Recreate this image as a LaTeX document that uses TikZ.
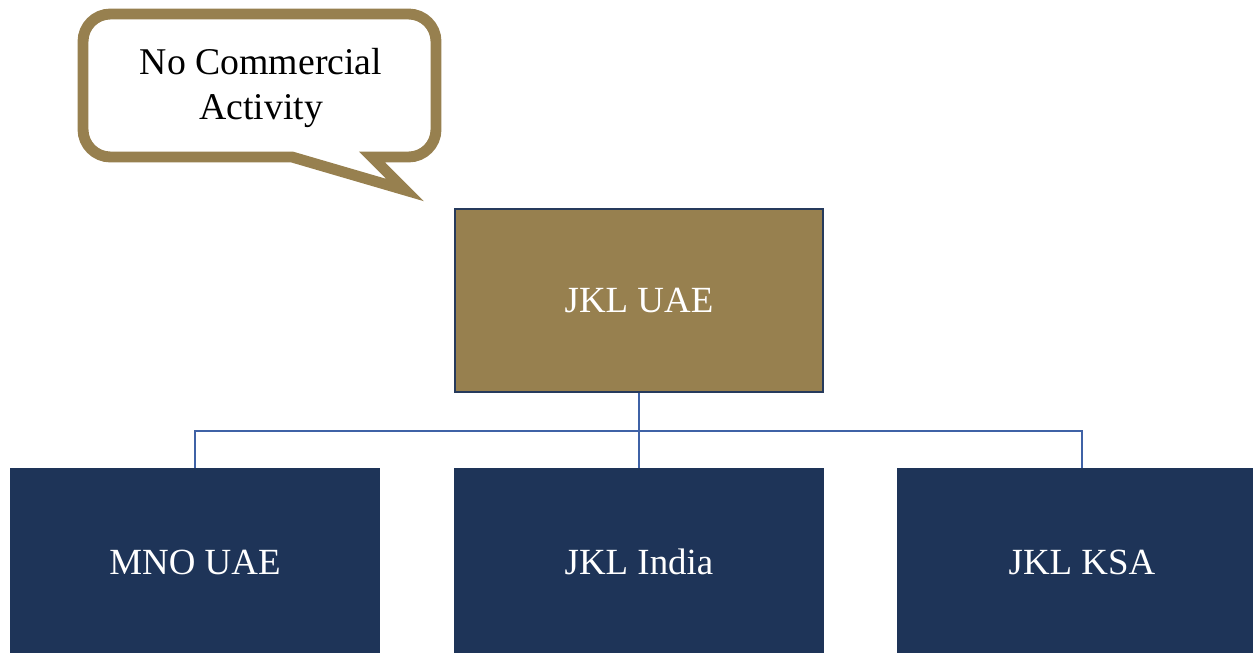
\documentclass[tikz,border=0pt]{standalone}
\usepackage{fontspec}
\setmainfont{Liberation Serif}
\definecolor{gold}{HTML}{97804F}
\definecolor{navy}{HTML}{1E3458}
\definecolor{edgenavy}{HTML}{263A5C}
\definecolor{connblue}{HTML}{3F62A6}
\tikzset{
  lbl/.style={font=\fontsize{21}{25.5}\selectfont},
  topbox/.style={rectangle, draw=edgenavy, line width=1.4pt, fill=gold, text=white, lbl,
    minimum width=7.36cm, minimum height=3.66cm, inner sep=0pt},
  childbox/.style={rectangle, draw=none, fill=navy, text=white, lbl,
    minimum width=7.4cm, minimum height=3.76cm, inner sep=0pt},
  conn/.style={draw=connblue, line width=1.4pt},
  callout/.style={draw=gold, line width=6.2pt, fill=white, line join=miter}
}
\begin{document}
\begin{tikzpicture}[x=0.02cm, y=-0.02cm]
\useasboundingbox (0,0) rectangle (1253,652);
\clip (0,0) rectangle (1253,652);
% callout
\draw[callout] (292,157) [rounded corners=0.55cm] -- (83,157) -- (83,14) -- (436,14) -- (436,157) [sharp corners] -- (372,157) -- (405,190) -- cycle;
\node[lbl, align=center, inner sep=0pt, font=\fontsize{21.5}{25.5}\selectfont] (note) at (261,88) {No Commercial\\Activity};
% boxes
\node[topbox] (uae) at (639,300.5) {JKL UAE};
\node[childbox] (mno) at (195,562) {MNO UAE};
\node[childbox] (india) at (639,562) {JKL India};
\node[childbox] (ksa) at (1082,562) {JKL KSA};
% connectors
\coordinate (bus) at (639,431);
\draw[conn] (uae.south) -- (bus);
\draw[conn] (mno.north) |- (bus) -| (ksa.north);
\draw[conn] (bus) -- (india.north);
\end{tikzpicture}
\end{document}
